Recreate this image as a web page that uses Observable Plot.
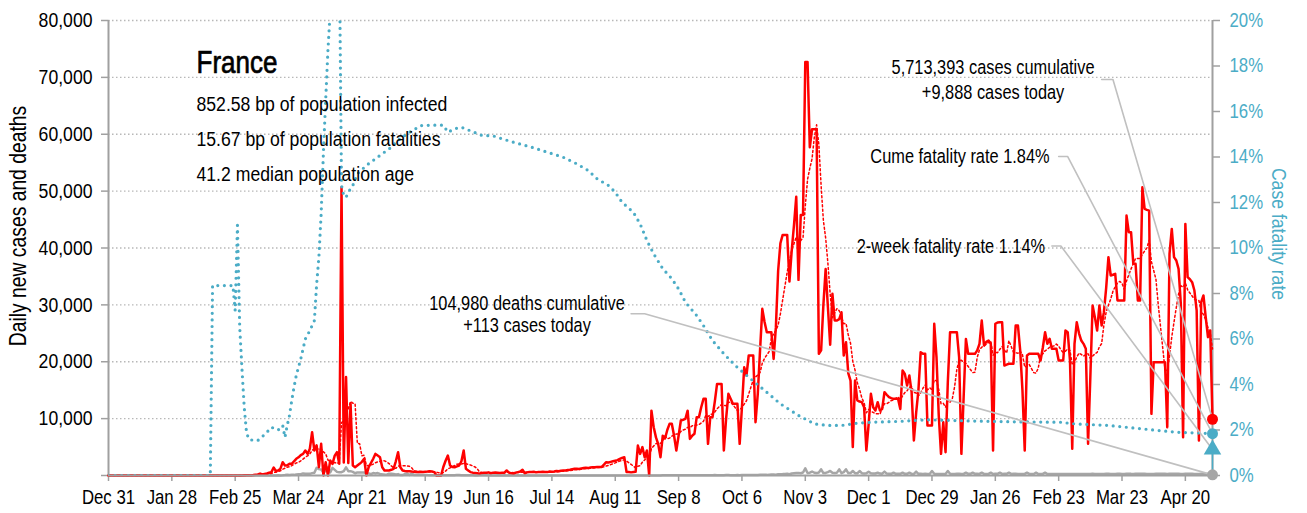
<!DOCTYPE html>
<html><head><meta charset="utf-8">
<script src="https://cdn.jsdelivr.net/npm/d3@7"></script>
<script src="https://cdn.jsdelivr.net/npm/@observablehq/plot@0.6"></script>
<style>
html,body{margin:0;padding:0;background:#fff;}
#chart{width:1307px;height:513px;overflow:hidden;}
</style></head><body><div id="chart"></div>
<script>
const startDate = "2019-12-31";
const countryName = "France";
const statsLines = ["852.58 bp of population infected", "15.67 bp of population fatalities", "41.2 median population age"];
const yLabel = "Daily new cases and deaths";
const rateLabel = "Case fatality rate";

// daily new cases, one value per day starting Dec 31 2019
const dailyCases = [
0,0,0,0,0,0,0,0,0,0,
0,0,0,0,0,0,0,0,0,0,
0,0,0,0,3,0,0,0,0,1,
1,0,0,0,0,0,0,0,0,5,
0,0,0,0,0,1,0,0,0,0,
0,0,0,0,0,0,2,4,20,19,
43,30,61,21,73,138,190,336,177,286,
372,497,595,1400,780,900,1200,2340,1760,1800,
2050,2050,2500,2930,3200,3600,3800,4400,3800,4700,
7600,4400,5300,1460,5570,0,2340,0,2640,2050,
3500,4100,2050,50700,2300,17300,2200,12600,1760,1460,
1760,2050,2400,2930,0,1460,2200,2930,3800,3500,
3220,1460,880,900,880,1000,1170,2500,4100,1460,
880,800,760,760,700,650,600,600,650,600,
650,700,760,700,600,0,0,0,1500,2600,
3500,1760,1500,1460,1600,1760,2500,4400,1170,880,
600,500,450,400,300,450,500,500,550,400,
500,520,500,450,500,500,880,500,400,300,
500,600,700,1000,400,550,600,600,650,550,
600,600,650,600,600,700,650,700,800,750,
850,880,900,950,1000,1100,1170,1200,1150,1250,
1300,1350,1300,1400,1460,1450,1500,1480,1500,1900,
2340,2300,2400,2500,2600,2700,2930,3100,3220,600,
600,550,600,650,5270,3800,5000,3200,4400,0,
11400,8500,6700,5500,3220,7000,6500,8000,9080,9080,
7000,4400,7000,9670,9800,9960,11400,6440,7000,7330,
10260,10260,12000,13480,13480,5570,10260,10260,13000,16100,
16100,16100,4400,10000,14360,13500,12600,12600,12600,5570,
12000,19040,17600,21100,21100,21100,9380,14360,22000,29300,
27000,25200,25200,25200,20500,26080,36000,40830,42300,42300,
42300,34100,39550,44000,49000,34400,45800,45800,72700,72700,
57700,60900,60900,60900,21400,22000,30000,36300,29590,23000,
31940,27250,27250,27500,28700,21100,23440,18000,16700,5000,
16700,13200,13000,12900,12000,4400,9000,14360,12000,11430,
12890,11430,11700,14650,14200,13770,13600,13480,13480,13480,
11700,18460,17870,15820,17580,14650,6150,11000,14950,21680,
21390,21390,8790,8790,8790,26670,20800,10550,3810,9380,
4100,16400,25200,25200,25200,25200,20800,3810,13800,24000,
21390,21390,21390,21390,22000,23150,27250,22860,23500,23730,
23150,4400,26670,26900,26960,26960,19340,19500,19640,19640,
19640,26370,26370,22000,14950,4400,21100,21390,21390,21390,
21390,21390,20220,22500,25200,23150,24030,22270,22270,22270,
20220,20220,20220,25490,25200,20220,4690,23150,26960,25000,
23730,23150,22270,5570,17290,29890,27840,25490,29890,26370,
28720,33000,38390,35170,35300,35460,30770,30770,30770,30770,
45700,42780,42780,37210,37210,30770,30770,50680,46870,46700,
46580,10840,19930,19930,19930,19930,19930,19930,8500,38970,
43360,38390,37800,36330,30180,6740,44240,34870,34500,33990,
32520,29010,6150,30480,31650,27840,24320,25490,9888
];

// daily new deaths, same days
const dailyDeaths = [
0,0,0,0,0,0,0,0,0,0,
0,0,0,0,0,0,0,0,0,0,
0,0,0,0,0,0,0,0,0,0,
0,0,0,0,0,0,0,0,0,0,
0,0,0,0,0,1,0,0,0,0,
0,0,0,0,0,0,0,1,0,0,
0,0,0,1,1,2,2,2,8,9,
14,15,13,18,12,36,21,27,69,128,
78,112,112,186,240,231,365,299,319,292,
418,499,1355,1120,1053,518,833,1417,541,1341,
987,635,561,574,762,1438,753,761,642,395,
547,531,544,516,389,369,242,437,367,427,
289,218,166,135,306,330,278,178,243,80,
70,263,348,83,351,104,96,125,98,85,
90,70,65,66,40,31,47,52,47,31,
57,52,31,31,107,81,44,46,29,28,
35,24,11,16,40,28,30,29,26,14,
21,14,29,12,21,29,11,23,11,14,
16,25,18,14,13,10,14,12,14,8,
12,10,11,7,14,13,11,12,9,18,
14,15,10,14,13,9,12,17,16,14,
11,12,16,18,18,15,11,17,12,9,
13,10,14,12,17,11,16,10,14,13,
17,16,11,18,12,13,14,19,15,14,
20,17,21,12,13,26,29,35,30,34,
25,28,32,35,38,36,42,26,50,40,
45,37,52,56,46,30,50,65,68,61,
58,51,43,69,79,63,54,61,68,44,
74,90,82,88,107,95,72,103,117,134,
120,110,145,160,168,146,221,235,245,271,
298,231,340,380,420,460,405,530,1260,450,
500,700,480,420,520,1085,420,450,600,800,
480,430,500,1085,420,600,1085,430,420,790,
400,380,790,400,350,380,675,380,350,360,
500,330,320,675,330,310,300,500,290,300,
300,500,290,300,500,280,300,675,300,290,
280,300,270,280,790,300,280,260,250,270,
280,790,300,280,270,290,300,260,280,500,
300,290,500,300,290,280,500,300,280,290,
500,270,300,290,500,280,290,300,500,280,
290,300,280,270,260,280,500,300,280,270,
500,260,270,280,500,260,270,280,260,260,
270,280,260,250,270,260,280,270,260,250,
270,260,280,260,250,300,270,260,280,270,
280,300,290,270,260,280,300,290,280,270,
300,310,290,280,300,320,310,300,290,280,
270,260,280,300,320,310,300,290,280,300,
310,320,300,290,280,270,300,310,300,290,
280,270,260,290,300,280,270,250,113
];

// cumulative case fatality rate (%), [day since Dec 31 2019, value]
const cfrPoints = [
[0,0],[45,0],[46,8.35],[55,8.35],[56,7.25],[57,11.0],[58,6.52],[59,4.69],[60,3.0],[61,1.9],
[62,1.6],[64,1.54],[66,1.54],[68,1.71],[70,1.9],[72,2.12],[75,2.0],[77,2.2],[78,1.68],[79,2.2],
[80,2.64],[81,3.3],[82,3.88],[83,4.4],[85,5.13],[87,6.0],[89,6.37],[91,6.81],[92,8.4],[93,9.6],
[94,11.5],[95,14.2],[96,16.5],[97,18.7],[98,20.4],[99,21.5],[100,22.5],[101,23.0],[102,23.5],[103,12.75],
[104,12.3],[105,12.23],[106,12.45],[108,12.75],[110,13.26],[114,13.63],[120,14.07],[125,14.43],[128,14.73],[132,15.02],
[138,15.38],[144,15.4],[148,15.4],[150,15.09],[153,15.24],[156,15.31],[160,15.15],[165,14.95],[170,14.93],[174,14.8],
[179,14.65],[187,14.43],[194,14.21],[201,13.99],[207,13.7],[212,13.41],[216,13.04],[221,12.75],[224,12.45],[227,12.01],
[232,11.57],[235,11.06],[238,10.33],[241,9.74],[245,9.09],[249,8.65],[252,8.2],[255,7.62],[260,7.03],[263,6.59],
[267,5.93],[272,5.35],[277,4.84],[283,4.32],[290,3.74],[297,3.15],[305,2.64],[312,2.27],[318,2.2],[324,2.2],
[331,2.3],[337,2.34],[350,2.38],[362,2.45],[380,2.4],[400,2.36],[421,2.34],[427,2.27],[442,2.2],[457,2.05],
[472,1.9],[480,1.87],[488,1.84]
];
const twoWeekRate = 1.14;

const xTickDates = ["2019-12-31","2020-01-28","2020-02-25","2020-03-24","2020-04-21","2020-05-19","2020-06-16","2020-07-14","2020-08-11","2020-09-08","2020-10-06","2020-11-03","2020-12-01","2020-12-29","2021-01-26","2021-02-23","2021-03-23","2021-04-20"];
const yTicks = [0,10000,20000,30000,40000,50000,60000,70000,80000];
const rateTicks = [0,2,4,6,8,10,12,14,16,18,20];

const annotationLines = [
  {text:"5,713,393 cases cumulative", date:"2021-01-25", v:71690, align:"middle"},
  {text:"+9,888 cases today", date:"2021-01-25", v:67380, align:"middle"},
  {text:"Cume fatality rate 1.84%", date:"2021-02-19", v:55960, align:"end"},
  {text:"2-week fatality rate 1.14%", date:"2021-02-17", v:40140, align:"end"},
  {text:"104,980 deaths cumulative", date:"2020-07-03", v:30240, align:"middle"},
  {text:"+113 cases today", date:"2020-07-03", v:26280, align:"middle"}
];
// leader start / elbow for: cases, cume rate, 2-week rate, deaths
const leaderStarts = [
  {start:"2021-03-14", elbow:"2021-03-19", v:69620},
  {start:"2021-02-23", elbow:"2021-02-27", v:56080},
  {start:"2021-02-20", elbow:"2021-02-24", v:40350},
  {start:"2020-08-18", elbow:"2020-08-24", v:28430}
];

const RATE = 4000; // 20% on the right axis == 80,000 on the left axis
const t0 = new Date(startDate);
const dayAt = i => d3.utcDay.offset(t0, i);
const series = dailyCases.map((c, i) => ({date: dayAt(i), cases: c, deaths: dailyDeaths[i]}));
const cfr = cfrPoints.map(([d, p]) => ({date: dayAt(d), v: p * RATE}));
const last = series[series.length - 1];
const tEnd = last.date;
const endPts = [
  {date: tEnd, v: last.cases},
  {date: tEnd, v: cfrPoints[cfrPoints.length - 1][1] * RATE},
  {date: tEnd, v: twoWeekRate * RATE},
  {date: tEnd, v: last.deaths}
];
const leaders = leaderStarts.flatMap((a, i) => [
  {id: i, date: new Date(a.start), v: a.v},
  {id: i, date: new Date(a.elbow), v: a.v},
  {id: i, date: tEnd, v: endPts[i].v}
]);
const ann = annotationLines.map(d => ({...d, date: new Date(d.date)}));

const blue = "#4bacc6", red = "#ff0000", grey = "#a6a6a6", axisGrey = "#a0a0a0", leaderGrey = "#c0c0c0";
const font = "'Liberation Sans', Arial, sans-serif";
const NARROW = 0.84; // horizontal condensing of all text

const chart = Plot.plot({
  width: 1307, height: 513,
  marginLeft: 108, marginRight: 95, marginTop: 20, marginBottom: 38,
  style: {fontFamily: font, fontSize: "20px", background: "#fff", color: "#000"},
  x: {type: "utc", domain: [t0, tEnd]},
  y: {domain: [0, 80000]},
  marks: [
    Plot.gridY(yTicks.filter(d => d > 0), {stroke: "#b8b8b8", strokeOpacity: 1, strokeWidth: 1.3, strokeDasharray: "1.5,2.5"}),
    Plot.axisX(xTickDates.map(d => new Date(d)), {tickFormat: d3.utcFormat("%b %-d"), tickSize: 6, tickPadding: 8, stroke: axisGrey, fill: "#000", fontSize: 20, label: null, strokeWidth: 1.5}),
    Plot.axisY(yTicks, {anchor: "left", tickFormat: d => d === 0 ? "" : d3.format(",")(d), tickSize: 7, tickPadding: 9, stroke: axisGrey, fill: "#000", fontSize: 21, label: null, strokeWidth: 1.5}),
    Plot.axisY(rateTicks.map(r => r * RATE), {anchor: "right", tickFormat: d => Math.round(d / RATE) + "%", tickSize: 7, tickPadding: 10, stroke: axisGrey, fill: blue, fontSize: 20, label: null, strokeWidth: 1.5}),
    Plot.ruleX([t0, tEnd], {stroke: axisGrey, strokeWidth: 2}),
    Plot.text([yLabel], {frameAnchor: "left", dx: -90, dy: -22, rotate: -90, textAnchor: "middle", lineAnchor: "middle", text: d => d, fontSize: 23, fill: "#000"}),
    Plot.text([rateLabel], {frameAnchor: "right", dx: 66, dy: -14, rotate: 90, textAnchor: "middle", lineAnchor: "middle", text: d => d, fontSize: 21, fill: blue}),
    Plot.lineY(series, {x: "date", y: "deaths", stroke: grey, strokeWidth: 2.5}),
    Plot.lineY(series, {x: "date", y: "cases", stroke: red, strokeWidth: 2.5}),
    Plot.lineY(series, Plot.windowY({k: 7, anchor: "end"}, {x: "date", y: "cases", stroke: red, strokeWidth: 1.5, strokeDasharray: "2,2.5"})),
    Plot.lineY(cfr, {x: "date", y: "v", stroke: blue, strokeWidth: 3.2, strokeDasharray: "0,6.6", strokeLinecap: "round", clip: true}),
    Plot.ruleY([0], {stroke: axisGrey, strokeWidth: 2}),
    Plot.line(leaders, {x: "date", y: "v", z: "id", stroke: leaderGrey, strokeWidth: 1.6}),
    Plot.ruleX([tEnd], {y1: 0, y2: twoWeekRate * RATE, stroke: blue, strokeWidth: 1.5}),
    Plot.dot([endPts[0]], {x: "date", y: "v", r: 5.5, fill: red}),
    Plot.dot([endPts[1]], {x: "date", y: "v", r: 5.5, fill: blue}),
    Plot.dot([endPts[2]], {x: "date", y: "v", r: 6.5, fill: blue, symbol: "triangle"}),
    Plot.dot([endPts[3]], {x: "date", y: "v", r: 5.5, fill: grey}),
    Plot.text([countryName], {frameAnchor: "top-left", dx: 88, dy: 43, lineAnchor: "middle", textAnchor: "start", fontSize: 31, fill: "#000", stroke: "#000", strokeWidth: 0.7, text: d => d}),
    ...statsLines.map((s, i) => Plot.text([s], {frameAnchor: "top-left", dx: 88, dy: 83.3 + i * 35.3, lineAnchor: "middle", textAnchor: "start", fontSize: 21, fill: "#000", text: d => d})),
    Plot.text(ann.filter(d => d.align === "middle"), {x: "date", y: "v", text: "text", textAnchor: "middle", lineAnchor: "middle", fontSize: 19.5, fill: "#000"}),
    Plot.text(ann.filter(d => d.align === "end"), {x: "date", y: "v", text: "text", textAnchor: "end", lineAnchor: "middle", fontSize: 19.5, fill: "#000"})
  ]
});

// condense every text horizontally around its own anchor point (x-attributes are not used by Plot here)
d3.select(chart).selectAll("text").each(function() {
  const t = this.getAttribute("transform") || "";
  this.setAttribute("transform", `${t} scale(${NARROW},1)`);
});
document.getElementById("chart").appendChild(chart);
</script>
</body></html>
